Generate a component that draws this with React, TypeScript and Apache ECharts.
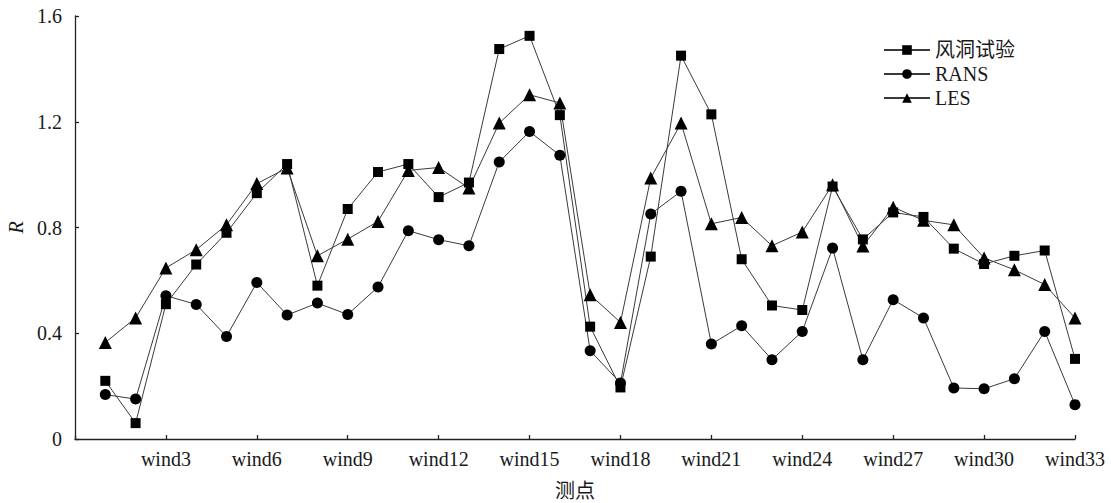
import React, { useEffect, useRef } from "react";
import * as echarts from "echarts";

const categories = [
  "wind1","wind2","wind3","wind4","wind5","wind6","wind7","wind8","wind9","wind10",
  "wind11","wind12","wind13","wind14","wind15","wind16","wind17","wind18","wind19","wind20",
  "wind21","wind22","wind23","wind24","wind25","wind26","wind27","wind28","wind29","wind30",
  "wind31","wind32","wind33",
];

const windTunnel = [
  0.22, 0.06, 0.51, 0.66, 0.78, 0.93, 1.04, 0.58, 0.87, 1.01,
  1.04, 0.915, 0.97, 1.475, 1.525, 1.225, 0.425, 0.195, 0.69, 1.45,
  1.228, 0.68, 0.505, 0.488, 0.955, 0.755, 0.857, 0.84, 0.72, 0.662,
  0.693, 0.713, 0.303,
];

const rans = [
  0.168, 0.151, 0.542, 0.509, 0.388, 0.592, 0.469, 0.514, 0.471, 0.575,
  0.788, 0.754, 0.731, 1.048, 1.163, 1.073, 0.334, 0.212, 0.851, 0.937,
  0.359, 0.428, 0.3, 0.407, 0.722, 0.3, 0.527, 0.458, 0.193, 0.19,
  0.228, 0.407, 0.13,
];

const les = [
  0.365, 0.458, 0.647, 0.716, 0.81, 0.966, 1.025, 0.693, 0.756, 0.823,
  1.016, 1.027, 0.949, 1.195, 1.302, 1.271, 0.546, 0.441, 0.987, 1.195,
  0.814, 0.838, 0.731, 0.783, 0.962, 0.73, 0.877, 0.827, 0.81, 0.685,
  0.64, 0.584, 0.458,
];

const seriesNames = ["风洞试验", "RANS", "LES"];
const yTicks = [0, 0.4, 0.8, 1.2, 1.6];

const FONT = "'Liberation Serif', 'Times New Roman', 'Noto Sans CJK SC', serif";

export default function App() {
  const ref = useRef<HTMLDivElement>(null);

  useEffect(() => {
    if (!ref.current) return;
    const chart = echarts.init(ref.current, undefined, { renderer: "svg" });
    const toPairs = (arr: number[]) => arr.map((v, i) => [i + 1, v]);
    const lineStyle = { color: "#3a3a3a", width: 1 };
    const itemStyle = { color: "#000" };
    chart.setOption({
      animation: false,
      backgroundColor: "#fff",
      textStyle: { fontFamily: FONT, color: "#1a1a1a" },
      grid: {
        left: 75,
        right: 36,
        top: 16,
        bottom: 64,
        containLabel: false,
        outerBoundsMode: "none",
      },
      legend: {
        orient: "vertical",
        left: 878,
        top: 35,
        itemWidth: 46,
        itemHeight: 12,
        itemGap: 4,
        data: seriesNames,
        textStyle: { fontFamily: FONT, fontSize: 20, color: "#1a1a1a" },
      },
      xAxis: {
        type: "value",
        min: 0,
        max: categories.length,
        interval: 3,
        name: "测点",
        nameLocation: "middle",
        nameGap: 42,
        nameTextStyle: { fontFamily: FONT, fontSize: 20, color: "#1a1a1a" },
        axisLine: { lineStyle: { color: "#222", width: 1.3 } },
        axisTick: { inside: true, length: 4, lineStyle: { color: "#222", width: 1.3 } },
        axisLabel: {
          fontFamily: FONT,
          fontSize: 20,
          color: "#1a1a1a",
          margin: 10,
          formatter: (v: number) => (v === 0 ? "" : categories[v - 1]),
        },
        splitLine: { show: false },
      },
      yAxis: {
        type: "value",
        min: yTicks[0],
        max: yTicks[yTicks.length - 1],
        interval: 0.4,
        name: "R",
        nameLocation: "middle",
        nameGap: 48,
        nameRotate: 90,
        nameTextStyle: { fontFamily: FONT, fontSize: 20, fontStyle: "italic", color: "#1a1a1a" },
        axisLine: { show: true, lineStyle: { color: "#222", width: 1.3 } },
        axisTick: { show: true, inside: true, length: 4, lineStyle: { color: "#222", width: 1.3 } },
        axisLabel: { fontFamily: FONT, fontSize: 20, color: "#1a1a1a", margin: 13 },
        splitLine: { show: false },
      },
      series: [
        {
          name: seriesNames[0],
          type: "line",
          data: toPairs(windTunnel),
          symbol: "rect",
          symbolSize: 10,
          lineStyle,
          itemStyle,
        },
        {
          name: seriesNames[1],
          type: "line",
          data: toPairs(rans),
          symbol: "circle",
          symbolSize: 11,
          lineStyle,
          itemStyle,
        },
        {
          name: seriesNames[2],
          type: "line",
          data: toPairs(les),
          symbol: "triangle",
          symbolSize: 13,
          lineStyle,
          itemStyle,
        },
      ],
    });
    return () => chart.dispose();
  }, []);

  return (
    <div
      ref={ref}
      style={{ position: "fixed", left: 0, top: 0, width: 1111, height: 503, background: "#fff" }}
    />
  );
}
